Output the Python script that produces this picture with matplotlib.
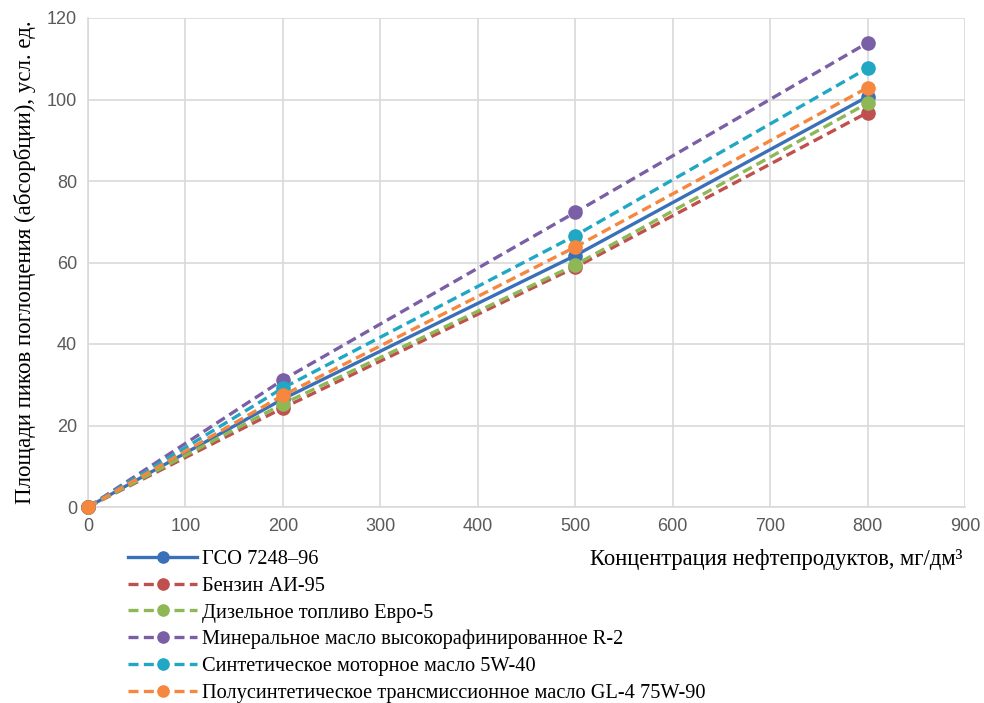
import matplotlib
matplotlib.use("Agg")
import matplotlib.pyplot as plt

concentration = [0, 200, 500, 800]
labels = [
    "ГСО 7248–96",
    "Бензин АИ-95",
    "Дизельное топливо Евро-5",
    "Минеральное масло высокорафинированное R-2",
    "Синтетическое моторное масло 5W-40",
    "Полусинтетическое трансмиссионное масло GL-4 75W-90",
]
gso = [0, 26.5, 61.7, 100.7]
benzin = [0, 24.3, 58.8, 96.8]
diesel = [0, 25.3, 59.4, 99.1]
mineral = [0, 31.2, 72.3, 113.9]
synthetic = [0, 29.2, 66.6, 107.7]
semisynth = [0, 27.4, 63.8, 102.9]
series = [gso, benzin, diesel, mineral, synthetic, semisynth]
colors = ["#3A70B8", "#C0504D", "#8DB855", "#7B5FA6", "#1FA7C4", "#F5873F"]
styles = ["-", "--", "--", "--", "--", "--"]

xticks = list(range(0, 1000, 100))
yticks = list(range(0, 140, 20))

fig = plt.figure(figsize=(9.84, 7.03), dpi=100)
ax = fig.add_axes([88/984, 1-507/703, (965-88)/984, (507-18)/703])

for vals, lab, c, ls in zip(series, labels, colors, styles):
    ax.plot(concentration, vals, ls, color=c, lw=2.4, marker="o", ms=9.5,
            label=lab, dashes=(3.0, 1.6) if ls == "--" else (None, None),
            zorder=3, clip_on=False)

ax.set_xlim(0, 900)
ax.set_ylim(0, 120)
ax.set_xticks(xticks)
ax.set_yticks(yticks)
ax.grid(True, color="#D9D9D9", lw=1.2)
ax.set_axisbelow(True)
for s in ["top", "right"]:
    ax.spines[s].set_visible(False)
for s in ["left", "bottom"]:
    ax.spines[s].set_color("#D9D9D9")
    ax.spines[s].set_linewidth(1.2)
ax.tick_params(length=0, labelsize=13, labelcolor="#595959", pad=8)
for t in ax.get_xticklabels() + ax.get_yticklabels():
    t.set_family("Liberation Sans")

ax.set_ylabel("Площади пиков поглощения (абсорбции), усл. ед.",
              family="Liberation Serif", fontsize=16.5, labelpad=8)
fig.text(962/984, 1-560/703, "Концентрация нефтепродуктов, мг/дм³",
         family="Liberation Serif", fontsize=16.3, ha="right", va="center")

fig.legend(loc="upper left", bbox_to_anchor=(128/984, 1-550/703),
           frameon=False, prop={"family": "Liberation Serif", "size": 14.7},
           handlelength=3.4, labelspacing=0.36, borderaxespad=0,
           borderpad=0, handletextpad=0.2, markerscale=0.85)

fig.savefig("out.png", dpi=100)
